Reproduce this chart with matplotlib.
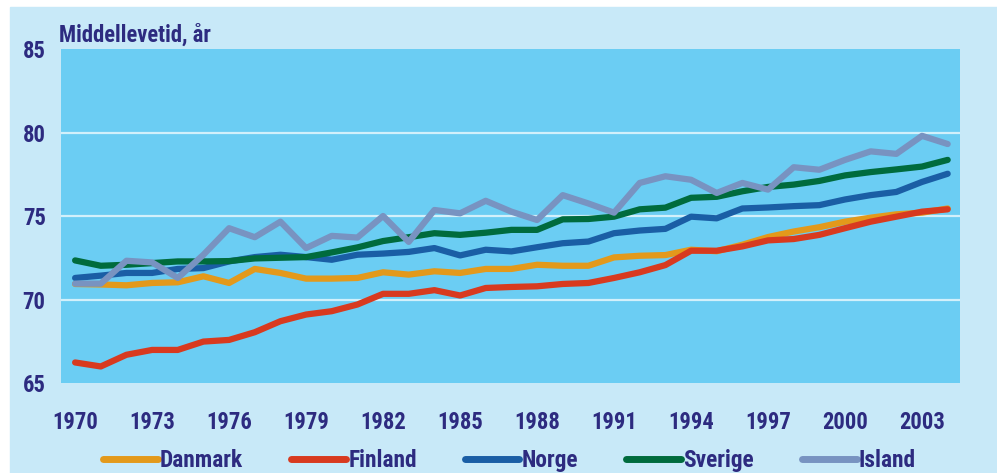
import matplotlib.pyplot as plt
from matplotlib import font_manager
from matplotlib.patches import Rectangle

years = list(range(1970, 2005))

danmark = [70.93, 70.9, 70.85, 70.99, 71.03, 71.39, 70.99, 71.83, 71.59, 71.25,
           71.25, 71.29, 71.63, 71.49, 71.69, 71.59, 71.83, 71.83, 72.08, 72.02,
           72.02, 72.52, 72.62, 72.66, 72.98, 72.89, 73.28, 73.74, 74.07, 74.33,
           74.66, 74.9, 75.1, 75.2, 75.45]
finland = [66.23, 65.99, 66.69, 66.98, 66.98, 67.48, 67.58, 68.04, 68.7, 69.1,
           69.3, 69.7, 70.34, 70.34, 70.56, 70.24, 70.69, 70.75, 70.79, 70.93,
           70.99, 71.29, 71.63, 72.06, 72.92, 72.92, 73.18, 73.54, 73.62, 73.87,
           74.27, 74.66, 74.96, 75.26, 75.4]
norge = [71.29, 71.43, 71.59, 71.59, 71.83, 71.88, 72.28, 72.54, 72.68, 72.54,
         72.38, 72.68, 72.75, 72.85, 73.08, 72.64, 72.98, 72.88, 73.13, 73.37,
         73.47, 73.97, 74.13, 74.23, 74.96, 74.86, 75.45, 75.51, 75.59, 75.65,
         75.99, 76.25, 76.44, 77.04, 77.53]
sverige = [72.34, 72.02, 72.08, 72.18, 72.28, 72.28, 72.3, 72.46, 72.5, 72.54,
           72.82, 73.12, 73.5, 73.73, 73.97, 73.87, 74.0, 74.17, 74.17, 74.8,
           74.82, 74.96, 75.4, 75.5, 76.09, 76.15, 76.48, 76.74, 76.88, 77.1,
           77.43, 77.63, 77.79, 77.96, 78.36]
island = [70.95, 70.95, 72.32, 72.22, 71.29, 72.68, 74.27, 73.73, 74.66, 73.08,
          73.81, 73.71, 75.0, 73.45, 75.36, 75.16, 75.91, 75.26, 74.76, 76.25,
          75.75, 75.2, 76.98, 77.38, 77.17, 76.38, 76.98, 76.58, 77.92, 77.77,
          78.36, 78.87, 78.72, 79.8, 79.31]

series = [("Danmark", danmark, "#e3991b"),
          ("Finland", finland, "#d83a1f"),
          ("Norge", norge, "#1a5ea5"),
          ("Sverige", sverige, "#006b3d"),
          ("Island", island, "#7893c1")]

xticks = list(range(1970, 2004, 3))
yticks = [65, 70, 75, 80, 85]

txt = "#2d2b80"

# pick a narrow bold face if one is around
installed = {f.name for f in font_manager.fontManager.ttflist}
narrow = None
for cand in ["Liberation Sans Narrow", "Roboto Condensed", "Open Sans Condensed",
             "DejaVu Sans Condensed"]:
    if cand in installed:
        narrow = cand
        break
if narrow:
    font = [narrow, "DejaVu Sans"]
    tick_fs, title_fs, leg_fs = 16.3, 16.3, 16.8
else:
    font = ["Liberation Sans", "DejaVu Sans"]
    tick_fs, title_fs, leg_fs = 13.5, 13.5, 14

fig = plt.figure(figsize=(9.97, 4.73), dpi=100)
fig.patches.append(Rectangle((10 / 997, 0), 1, 1 - 7 / 473, transform=fig.transFigure,
                             color="#c8e9f8", zorder=-10))

ax = fig.add_axes([61 / 997, 90 / 473, 899 / 997, 334 / 473])
ax.set_facecolor("#6bcdf3")
for s in ax.spines.values():
    s.set_visible(False)

for y in [70, 75, 80]:
    ax.axhline(y, color="#d2f0fb", lw=1.6, zorder=1)

for name, vals, col in series:
    ax.plot(years, vals, color=col, lw=4.5, label=name, zorder=2,
            solid_capstyle="round")

ax.set_xlim(1969.45, 2004.48)
ax.set_ylim(65, 85)
ax.set_xticks(xticks)
ax.set_yticks(yticks)
ax.tick_params(length=0)
ax.tick_params(axis="x", pad=20)
ax.tick_params(axis="y", pad=11)
for lab in ax.get_xticklabels() + ax.get_yticklabels():
    lab.set_family(font)
    lab.set_fontweight("bold")
    lab.set_fontsize(tick_fs)
    lab.set_color(txt)

fig.text(59 / 997, 1 - 42 / 473, "Middellevetid, år", family=font, fontweight="bold",
         fontsize=title_fs, color=txt, va="baseline")

leg = fig.legend(loc="center", bbox_to_anchor=(0.511, 0.027), ncol=5, frameon=False,
                 handlelength=2.35, handletextpad=0.1, columnspacing=2.05,
                 borderpad=0, prop=dict(family=font, weight="bold", size=leg_fs))
for t in leg.get_texts():
    t.set_color(txt)
for h in leg.legend_handles:
    h.set_linewidth(5)

fig.savefig("out.png", dpi=100)
